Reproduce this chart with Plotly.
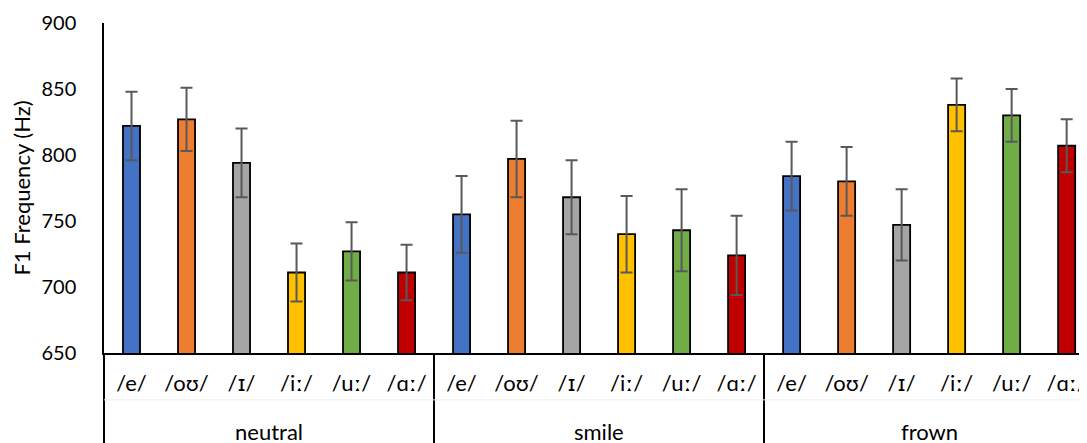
import plotly.graph_objects as go

conditions = ["neutral", "smile", "frown"]
vowels = ["/e/", "/oʊ/", "/ɪ/", "/iː/", "/uː/", "/ɑː/"]
vowel_colors = ["#4472C4", "#ED7D31", "#A5A5A5", "#FFC000", "#70AD47", "#C00000"]

neutral_f1 = [822, 827, 794, 711, 727, 711]
smile_f1 = [755, 797, 768, 740, 743, 724]
frown_f1 = [784, 780, 747, 838, 830, 807]

neutral_err = [26, 24, 26, 22, 22, 21]
smile_err = [29, 29, 28, 29, 31, 30]
frown_err = [26, 26, 27, 20, 20, 20]

values = neutral_f1 + smile_f1 + frown_f1
errors = neutral_err + smile_err + frown_err
nv = len(vowels)
# outer level keys are blank (distinct zero-width strings); the condition
# names are written as annotations centred on each group
x_outer = ["\u200b" * (i + 1) for i, c in enumerate(conditions) for _ in vowels]
x_inner = [v.replace("ɪ", "<span style='font-family:DejaVu Sans'>ɪ</span>") + "<br>\u00a0"
           for v in vowels] * len(conditions)
colors = vowel_colors * len(conditions)

fig = go.Figure()
fig.add_trace(go.Bar(
    x=[x_outer, x_inner],
    y=values,
    marker=dict(color=colors, line=dict(color="#000000", width=1.8)),
    width=0.31,
    error_y=dict(type="data", array=errors, visible=True,
                 color="#595959", thickness=2, width=6),
    showlegend=False,
))

for i, c in enumerate(conditions):
    fig.add_annotation(x=i * nv + (nv - 1) / 2, xref="x", y=-0.239, yref="paper",
                       text=c, showarrow=False, yanchor="middle",
                       font=dict(size=22, color="#000000"))

n = len(values)
# page body has an 8px default margin, so the figure is drawn 8px smaller
fig.update_layout(
    width=1079, height=435,
    margin=dict(l=96, r=0, t=15, b=90),
    paper_bgcolor="white", plot_bgcolor="white",
    font=dict(family="Lato, DejaVu Sans, sans-serif", size=22, color="#000000"),
)
fig.update_xaxes(
    type="multicategory",
    range=[-0.5, n - 1 + 0.37],
    showline=True, linecolor="#000000", linewidth=1.5,
    showdividers=True, dividercolor="#000000", dividerwidth=1.5,
    ticks="", ticklabelstandoff=10,
    showgrid=False,
    tickfont=dict(size=22),
)
fig.update_yaxes(
    range=[650, 900], dtick=50,
    showline=True, linecolor="#000000", linewidth=1.5,
    showgrid=False, zeroline=False, ticks="",
    ticklabelstandoff=22, tickfont=dict(size=20),
    title=dict(text="F1 Frequency (Hz)", font=dict(size=22), standoff=12),
)
fig.add_shape(type="line", xref="paper", yref="paper",
              x0=0, x1=1, y0=-0.142, y1=-0.142,
              line=dict(color="#EEEEEE", width=1))
fig.write_html("out.html")
